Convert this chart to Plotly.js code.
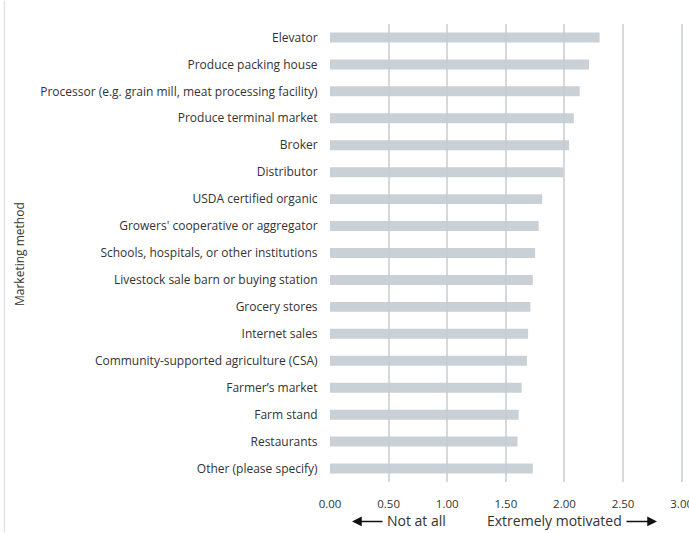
<!DOCTYPE html>
<html>
<head>
<meta charset="utf-8">
<script src="https://cdn.plot.ly/plotly-3.0.1.min.js"></script>
<style>html,body{margin:0;padding:0;background:#fff;}#chart{width:689px;height:533px;}</style>
</head>
<body>
<div id="chart"></div>
<script>
const categories = [
  "Elevator",
  "Produce packing house",
  "Processor (e.g. grain mill, meat processing facility)",
  "Produce terminal market",
  "Broker",
  "Distributor",
  "USDA certified organic",
  "Growers' cooperative or aggregator",
  "Schools, hospitals, or other institutions",
  "Livestock sale barn or buying station",
  "Grocery stores",
  "Internet sales",
  "Community-supported agriculture (CSA)",
  "Farmer\u2019s market",
  "Farm stand",
  "Restaurants",
  "Other (please specify)"
];
const values = [2.30, 2.21, 2.13, 2.08, 2.04, 1.99, 1.81, 1.78, 1.75, 1.73, 1.71, 1.69, 1.68, 1.635, 1.61, 1.60, 1.73];
const tickVals = [0, 0.5, 1, 1.5, 2, 2.5, 3];
const tickText = ["0.00", "0.50", "1.00", "1.50", "2.00", "2.50", "3.00"];
const yTitle = "Marketing method";
const leftNote = "Not at all";
const rightNote = "Extremely motivated";

const font = "'Open Sans', 'Noto Sans', sans-serif";
const marginR = 5;
const plotW = 689 - 330 - marginR;
const plotH = 533 - 23.5 - 50.5;
const px = p => (p - 330) / plotW;
const py = p => (533 - 50.5 - p) / plotH;

const trace = {
  type: 'bar',
  orientation: 'h',
  y: categories,
  x: values,
  width: 0.37,
  marker: {color: 'rgba(196,205,211,0.92)', line: {width: 0}},
  hoverinfo: 'x+y'
};

const layout = {
  width: 689, height: 533,
  margin: {l: 330, r: marginR, t: 23.5, b: 50.5, pad: 0},
  paper_bgcolor: '#ffffff', plot_bgcolor: '#ffffff',
  showlegend: false,
  font: {family: font, size: 12, color: '#333333'},
  bargap: 0.63,
  xaxis: {
    range: [0, 3.02],
    tickvals: tickVals, ticktext: tickText,
    showgrid: true, gridcolor: '#d3d9dc', gridwidth: 2,
    zeroline: false, showline: false,
    ticks: 'outside', ticklen: 11, tickcolor: 'rgba(0,0,0,0)',
    ticklabeloverflow: 'allow',
    tickfont: {family: font, size: 11.5, color: '#333333'},
    fixedrange: true
  },
  yaxis: {
    categoryorder: 'array', categoryarray: categories,
    autorange: 'reversed',
    showgrid: false, zeroline: false, showline: false,
    ticks: 'outside', ticklen: 9, tickcolor: 'rgba(0,0,0,0)',
    tickfont: {family: font, size: 12, color: '#333333'},
    automargin: false,
    fixedrange: true
  },
  shapes: [
    {type: 'line', xref: 'paper', yref: 'paper', x0: px(4.5), x1: px(4.5), y0: py(533), y1: py(0),
     line: {color: '#e3e3e3', width: 1.5}}
  ],
  annotations: [
    {xref: 'paper', yref: 'paper', x: px(20), y: py(254), text: yTitle, textangle: -90,
     showarrow: false, font: {family: font, size: 12, color: '#333333'}, xanchor: 'center', yanchor: 'middle'},
    {xref: 'paper', yref: 'paper', x: px(448), y: py(521), text: leftNote, showarrow: false,
     xanchor: 'right', yanchor: 'middle', font: {family: font, size: 14, color: '#333333'}},
    {xref: 'paper', yref: 'paper', x: px(485), y: py(521), text: rightNote, showarrow: false,
     xanchor: 'left', yanchor: 'middle', font: {family: font, size: 14, color: '#333333'}},
    {xref: 'paper', yref: 'paper', x: px(352), y: py(522), axref: 'pixel', ayref: 'pixel', ax: 32, ay: 0,
     text: '', showarrow: true, arrowhead: 2, arrowsize: 1.3, arrowwidth: 1.5, arrowcolor: '#111111', standoff: 0},
    {xref: 'paper', yref: 'paper', x: px(657), y: py(522), axref: 'pixel', ayref: 'pixel', ax: -32, ay: 0,
     text: '', showarrow: true, arrowhead: 2, arrowsize: 1.3, arrowwidth: 1.5, arrowcolor: '#111111', standoff: 0}
  ]
};

Plotly.newPlot('chart', [trace], layout, {displayModeBar: false, staticPlot: true});
</script>
</body>
</html>
